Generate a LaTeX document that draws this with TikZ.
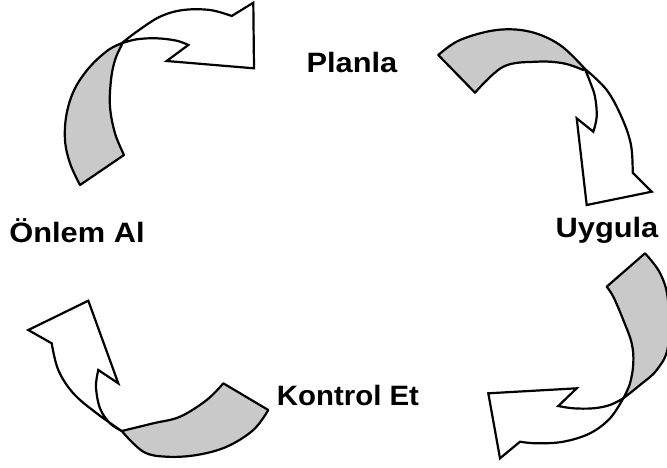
\documentclass[tikz,border=0pt]{standalone}
\usepackage{fontspec}
\setmainfont{Liberation Sans}
\begin{document}
\begin{tikzpicture}[x=1pt,y=-1pt,
  back/.style={draw=black,line width=2.2pt,line join=round,fill=black!21},
  front/.style={draw=black,line width=2.2pt,line join=miter,fill=white},
  lbl/.style={inner sep=0pt,anchor=base,font=\fontsize{28}{33}\selectfont\bfseries}]
\useasboundingbox (0,0) rectangle (667,467);
\begin{scope}
\clip (0,0) rectangle (667,467);

% top-left arrow: back face
\draw[back] plot[smooth,tension=0.6] coordinates {(121.7,43.3) (108.3,50) (90,66.7) (75,88.3) (66.7,113.3) (65,140) (70,163.3) (80,185)}
  -- plot[smooth,tension=0.6] coordinates {(124,155) (115,133.3) (110,106.7) (111,80) (115,60) (121.7,45)} -- cycle;
% top-left arrow: front face with head
\draw[front] plot[smooth,tension=0.6] coordinates {(121.7,43.3) (136.7,31.7) (160,16.7) (183.3,10) (210,10) (231.7,16)}
  -- (253.3,2.7) -- (254,68.3) -- (166.7,61)
  -- plot[smooth,tension=0.6] coordinates {(188.3,45) (176.7,40.7) (156.7,38.3) (136.7,39.3) (121.7,43.3)} -- cycle;

% top-right arrow: back face
\draw[back] plot[smooth,tension=0.6] coordinates {(438.3,55) (460,40) (496.7,30) (530,31.7) (560,45) (585,69)}
  -- plot[smooth,tension=0.6] coordinates {(583.3,70) (563.3,63.3) (536.7,61.7) (503.3,66.7) (475,92.7)} -- cycle;
% top-right arrow: front face with head
\draw[front] plot[smooth,tension=0.6] coordinates {(585,69) (606.7,90) (622,118) (631,145) (632.7,172.7)}
  -- (651.7,191.7) -- (586.7,205) -- (576.7,118.3)
  -- plot[smooth,tension=0.6] coordinates {(593.3,131.7) (596.7,116.7) (595,96.7) (590,81.7) (585,69)} -- cycle;

% bottom-right arrow: back face
\draw[back] (606.7,286.7) -- plot[smooth,tension=0.6] coordinates {(645,253.3) (660,273) (668,300) (668,346.7) (656.7,370) (640,385) (623.3,398.3)}
  -- plot[smooth,tension=0.6] coordinates {(623.3,398.3) (630,383.3) (633.3,363.3) (631.7,343.3) (623.3,320) (613.3,296.7) (606.7,286.7)} -- cycle;
% bottom-right arrow: front face with head
\draw[front] plot[smooth,tension=0.6] coordinates {(623.3,398.3) (610,405) (593.3,408.3) (573.3,408.3) (558.3,406)}
  -- (576.7,388.3) -- (488.3,393.3) -- (500,458.3)
  -- plot[smooth,tension=0.6] coordinates {(520,441.7) (536.7,443.3) (563.3,441.7) (590,433.3) (610,418.3) (623.3,398.3)} -- cycle;

% bottom-left arrow: back face
\draw[back] plot[smooth,tension=0.6] coordinates {(223.3,383.3) (206.7,400) (180,416.7) (153.3,423.3) (121.7,431)}
  -- plot[smooth,tension=0.6] coordinates {(121.7,431) (143.3,451.7) (166.7,456.7) (196.7,455) (226.7,446.7) (253.3,430) (268.3,410)} -- cycle;
% bottom-left arrow: front face with head
\draw[front] plot[smooth,tension=0.6] coordinates {(121.7,431) (96.7,413.3) (73.3,393.3) (58.3,370) (51.7,343.3)}
  -- (28.3,330) -- (88.3,300.7) -- (118.3,383.3)
  -- plot[smooth,tension=0.6] coordinates {(98.3,370) (96,386.7) (100,408.3) (110,423.3) (121.7,431)} -- cycle;
\end{scope}

% step labels
\node[lbl] (plan) at (352,72) {\scalebox{1.1}[1]{Planla}};
\node[lbl] (do) at (607,237) {\scalebox{1.1}[1]{Uygula}};
\node[lbl] (act) at (77,242) {\scalebox{1.1}[1]{Önlem Al}};
\node[lbl] (check) at (348,405) {\scalebox{1.05}[1]{Kontrol Et}};
\end{tikzpicture}
\end{document}
